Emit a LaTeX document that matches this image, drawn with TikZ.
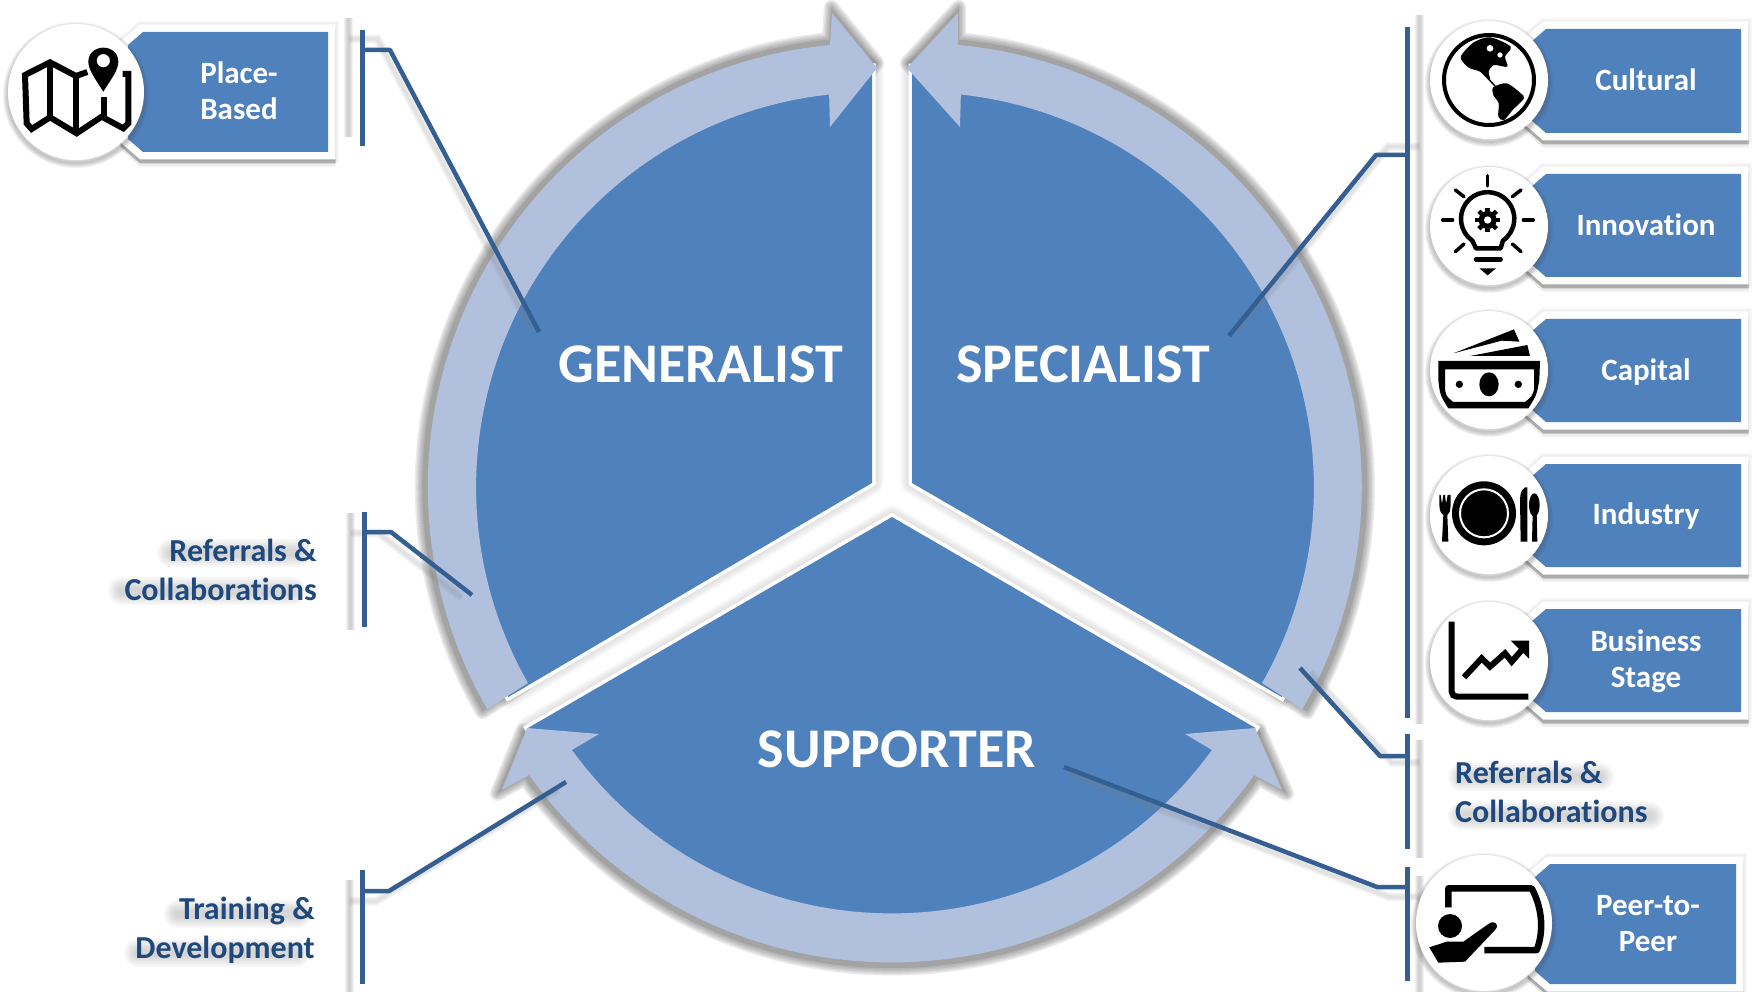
\documentclass[tikz,border=0pt]{standalone}
\usepackage{fontspec}
\setmainfont[RawFeature={-liga;-dlig;-clig}]{Carlito}
\definecolor{secblue}{HTML}{4F81BD}
\definecolor{ringblue}{HTML}{B0C0DD}
\definecolor{linkblue}{HTML}{365F91}
\definecolor{labelblue}{HTML}{1F497D}
\tikzset{
  tagtext/.style={text=white,font=\bfseries\fontsize{31}{36}\selectfont,align=center,inner sep=0pt},
  bigtext/.style={text=white,font=\bfseries\fontsize{56}{60}\selectfont,inner sep=0pt},
  sidetext/.style={text=labelblue,font=\bfseries\fontsize{32}{39}\selectfont,inner sep=0pt},
  link/.style={draw=linkblue,line width=4.5pt,line join=round},
  barlink/.style={draw=linkblue,line width=5pt},
  iconline/.style={draw=black,line width=4.5pt,line cap=round,line join=round}
}
% soft halo: stacked translucent strokes, widest first, closed by an opaque core
\newcommand{\softshape}[1]{%
  \foreach \w in {15,12,9,6,3}{\draw[draw=black!60,draw opacity=.12,line width=\w pt,line join=round] #1;}
  \fill[black!36] #1;}
\newcommand{\softband}[3]{%
  \foreach \w in {8,12,16,20,24,28}{\draw[draw=gray,draw opacity=.06,line width=\w pt,line cap=round] (#1,#3) -- (#2,#3);}}
% bracket connector: name, x, top, bottom, stub y, knee x, end x, end y
\newcommand{\bracket}[8]{%
  \begin{scope}[shift={(892,490)},scale=1.025,shift={(-892,-490)}]
    \foreach \w in {3,5,7,9}{\draw[draw=gray,draw opacity=.1,line width=\w pt] (#2,#3) -- (#2,#4);
      \draw[draw=gray,draw opacity=.06,line width=\w pt] (#2,#5) -- (#6,#5) -- (#7,#8);}
  \end{scope}
  \coordinate (#1top) at (#2,#3);
  \coordinate (#1bot) at (#2,#4);
  \coordinate (#1stub) at (#2,#5);
  \coordinate (#1knee) at (#6,#5);
  \coordinate (#1end) at (#7,#8);
  \draw[barlink] (#1top) -- (#1bot);
  \draw[link] (#1stub) -- (#1knee) -- (#1end);}
% tag: name, L, T, R, B, cx, cy, r, tx, ty, text
\newcommand{\tagbox}[9]{%
  \def\tagL{#2}\def\tagT{#3}\def\tagR{#4}\def\tagB{#5}\def\circX{#6}\def\circY{#7}\def\circR{#8}\def\tagName{#1}\def\tagTX{#9}\tagboxrest}
\newcommand{\tagoutline}{(\tagL,\tagT) -- (\tagR,\tagT) -- (\tagR,\tagB) -- (\tagL,\tagB) -- (\tagL-15,\tagB-13) -- (\tagL-15,\tagT+13) -- cycle}
\newcommand{\tagboxrest}[2]{%
  \foreach \w in {22,18}{\draw[draw=gray,draw opacity=.07,line width=\w pt,line join=miter] \tagoutline;}
  \begin{scope}[shift={(0,7)}]
    \draw[draw=gray,draw opacity=.15,line width=15pt,line join=miter] \tagoutline;
  \end{scope}
  \begin{scope}[shift={(0,4)}]
    \draw[draw=gray,draw opacity=.55,line width=15pt,line join=miter] \tagoutline;
  \end{scope}
  \draw[draw=white,line width=15pt,line join=miter,fill=white] \tagoutline;
  \fill[secblue] \tagoutline;
  \foreach \w in {2,4,6,8,10}{\draw[draw=black!70,draw opacity=.07,line width=\w pt] (\circX,\circY+3) circle[radius=\circR pt];}
  \fill[white] (\circX,\circY) circle[radius=\circR pt];
  \node[tagtext] (\tagName) at (\tagTX,#1) {#2};}
\begin{document}
\begin{tikzpicture}[x=1pt,y=1pt,yscale=-1]
\useasboundingbox (0,0) rectangle (1757,992);
\fill[white] (0,0) rectangle (1757,992);
\def\ringG{(528,683) arc[start angle=150.3,end angle=263.9,radius=395pt] -- (830,127) -- (877,68) -- (832,13) -- (830,45) arc[start angle=264.6,end angle=150,radius=444pt] -- cycle}
\def\ringS{(1262,683) arc[start angle=29.7,end angle=-83.9,radius=395pt] -- (960,127) -- (907,68) -- (958,13) -- (958,45) arc[start angle=-84.8,end angle=30,radius=444pt] -- cycle}
\def\ringB{(572,750) arc[start angle=144.1,end angle=35.9,radius=395pt] -- (1185,734) -- (1255,728) -- (1282,790) -- (1254,775) arc[start angle=35.3,end angle=144.7,radius=444pt] -- (502,790) -- (527,728) -- (599,734) -- cycle}
\def\secG{(872,483) -- (508.3,697) arc[start angle=150,end angle=270,radius=420pt] -- cycle}
\def\secS{(912,483) -- (1281.7,697) arc[start angle=30,end angle=-90.8,radius=420pt] -- cycle}
\def\secB{(892,517) -- (528,728) arc[start angle=150,end angle=30,radius=420pt] -- cycle}
% ring shadows
\begin{scope}[shift={(892,490)},scale=1.012,shift={(-892,-490)}]
  \softshape{\ringG}
  \softshape{\ringS}
  \softshape{\ringB}
\end{scope}
% sector halos
\foreach \w in {11,14,17,20,23}{
  \draw[draw=black!60,draw opacity=.035,line width=\w pt,line join=round] \secG;
  \draw[draw=black!60,draw opacity=.035,line width=\w pt,line join=round] \secS;
  \draw[draw=black!60,draw opacity=.035,line width=\w pt,line join=round] \secB;}
% sectors
\draw[draw=white,line width=7pt,line join=miter] \secG;
\draw[draw=white,line width=7pt,line join=miter] \secS;
\draw[draw=white,line width=7pt,line join=miter] \secB;
\fill[secblue] \secG;
\fill[secblue] \secS;
\fill[secblue] \secB;
% ring arrows
\fill[ringblue] \ringG;
\fill[ringblue] \ringS;
\fill[ringblue] \ringB;
% sector titles
\node[bigtext] (generalist) at (701,364) {GENERALIST};
\node[bigtext] (specialist) at (1083,364) {SPECIALIST};
\node[bigtext] (supporter) at (897,749) {SUPPORTER};
% connectors
\bracket{lone}{362}{30}{146}{50}{390}{539}{332}
\bracket{ltwo}{364}{512}{627}{532}{391}{472}{595}
\bracket{lthree}{362.5}{870}{984}{891}{389}{566}{782}
\bracket{rone}{1407}{27}{718}{155}{1376}{1229}{336}
\bracket{rtwo}{1407}{734}{849}{756}{1380}{1300}{668}
\bracket{rthree}{1407}{867}{981}{887}{1377}{1064}{767}
% side labels
\softband{171}{298}{553}
\softband{122}{292}{591}
\softband{178}{298}{914}
\softband{138}{296}{953}
\softband{1462}{1600}{777}
\softband{1462}{1650}{816}
\node[sidetext,anchor=east,align=right] (refleft) at (317,570) {Referrals \&\\Collaborations};
\node[sidetext,anchor=east,align=right] (training) at (315,930) {Training \&\\Development};
\node[sidetext,anchor=west,align=left] (refright) at (1455,792) {Referrals \&\\Collaborations};
% tags
\tagbox{place}{143}{32}{328}{152}{76}{92}{68}{239}{91}{Place-\\Based}
\tagbox{cultural}{1546}{29}{1741}{133}{1489}{80}{59}{1646}{80}{Cultural}
\tagbox{innovation}{1546}{174}{1741}{277}{1489}{226}{59}{1646}{225}{Innovation}
\tagbox{capital}{1546}{319}{1741}{422}{1489}{370}{59}{1646}{372}{Capital}
\tagbox{industry}{1546}{464}{1741}{567}{1489}{515}{59}{1646}{516}{Industry}
\tagbox{business}{1546}{609}{1741}{712}{1489}{661}{59}{1646}{661}{Business\\Stage}
\tagbox{peer}{1550}{864}{1736}{984}{1484}{923}{68}{1648}{924}{Peer-to-\\Peer}
% icon: map
\begin{scope}[scale=.33333]
  \draw[iconline,line width=6pt,line cap=butt,line join=miter] (262,216) -- (228,228) -- (150,187) -- (75,225) -- (80,370) -- (95,387) -- (150,352) -- (230,400) -- (305,350) -- (370,385) -- (385,370) -- (385,222) -- (368,222);
  \draw[iconline,line width=6pt,line cap=butt] (150,187) -- (150,352);
  \draw[iconline,line width=6pt,line cap=butt] (228,228) -- (228,400);
  \draw[iconline,line width=6pt,line cap=butt] (311,350) -- (311,290);
  \fill[black,even odd rule] (310,275) .. controls (285,235) and (265,210) .. (265,185) .. controls (265,160) and (285,143) .. (310,143) .. controls (335,143) and (355,160) .. (355,185) .. controls (355,210) and (335,235) .. (310,275) -- cycle (310,182) circle[radius=20pt];
\end{scope}
% icon: globe
\begin{scope}[shift={(1390,0)},scale=.33333]
  \draw[black,line width=4pt] (297,240) circle[radius=135pt];
  \fill[black] plot[smooth cycle] coordinates {(213,168) (250,128) (300,112) (362,140) (345,170) (352,200) (312,195) (296,215) (300,240) (270,215) (240,205) (222,190)};
  \fill[black] plot[smooth cycle] coordinates {(310,262) (350,250) (390,278) (402,295) (368,330) (342,360) (325,350) (326,310) (310,285)};
  \draw[black,line width=1.5pt] (275,215) -- (315,258);
  \fill[white] (300,145) circle[radius=10pt] (330,165) circle[radius=8pt];
\end{scope}
% icon: bulb
\begin{scope}[shift={(1390,0)},scale=.33333]
  \draw[iconline,line width=4.5pt] (247,722) arc[start angle=125,end angle=415,radius=80pt] -- (332,745) -- (258,745) -- cycle;
  \fill[black] (293,660) circle[radius=27pt];
  \foreach \a in {0,45,...,315}{\draw[black,line width=4.5pt] (293,660) -- +(\a:37);}
  \fill[white] (293,660) circle[radius=11pt];
  \draw[iconline,line width=4.5pt] (258,778) -- (332,778);
  \fill[black] (268,805) -- (318,805) -- (293,826) -- cycle;
  \draw[iconline,line width=3.5pt] (293,527) -- (293,558);
  \draw[iconline,line width=3.5pt] (158,660) -- (188,660);
  \draw[iconline,line width=3.5pt] (400,660) -- (430,660);
  \draw[iconline,line width=3.5pt] (196,570) -- (222,590);
  \draw[iconline,line width=3.5pt] (393,570) -- (367,590);
  \draw[iconline,line width=3.5pt] (196,755) -- (222,732);
  \draw[iconline,line width=3.5pt] (393,755) -- (367,732);
\end{scope}
% icon: cash
\begin{scope}[shift={(1390,300)},scale=.33333]
  \fill[black] (190,160) -- (372,88) -- (388,125) -- (335,122) -- cycle;
  \fill[black] (240,168) -- (412,135) -- (420,168) -- cycle;
  \fill[black,even odd rule] (145,183) -- (450,183) -- (448,240) .. controls (440,285) .. (415,325) -- (175,325) .. controls (150,285) .. (145,240) -- cycle
    (165,208) -- (432,208) -- (432,270) .. controls (425,290) .. (405,306) -- (190,306) .. controls (170,290) .. (165,270) -- cycle;
  \fill[black] (297,253) ellipse[x radius=29pt,y radius=36pt];
  \fill[black] (208,253) circle[radius=11pt] (385,253) circle[radius=11pt];
\end{scope}
% icon: plate
\begin{scope}[shift={(1390,300)},scale=.33333]
  \fill[black] (282,640) circle[radius=96pt];
  \draw[white,line width=2pt] (282,640) circle[radius=72pt];
  \fill[black] (148,585) -- (152,585) -- (156,612) -- (160,585) -- (165,585) -- (168,612) -- (173,585) -- (182,585) -- (182,615) .. controls (180,635) .. (172,645) -- (175,725) -- (156,725) -- (160,645) .. controls (150,635) .. (148,615) -- cycle;
  \fill[black] (392,725) -- (390,600) .. controls (392,575) .. (405,562) -- (412,562) -- (412,725) -- cycle;
  \fill[black] (433,615) ellipse[x radius=16pt,y radius=35pt];
  \fill[black] (428,640) -- (440,640) -- (442,725) -- (426,725) -- cycle;
\end{scope}
% icon: chart
\begin{scope}[shift={(1390,300)},scale=.33333]
  \draw[black,line width=6pt,rounded corners=5pt] (185,965) -- (185,1190) -- (415,1190);
  \draw[black,line width=6pt,line join=miter] (222,1132) -- (275,1075) -- (300,1100) -- (345,1060) -- (365,1085) -- (400,1045);
  \fill[black] (362,1022) -- (417,1022) -- (417,1076) -- cycle;
\end{scope}
% icon: presenter
\begin{scope}[shift={(1250,640)},scale=.33333]
  \draw[black,line width=6.5pt,line join=round] (595,802) -- (595,745) -- (845,745) .. controls (880,810) and (880,880) .. (860,930) -- (703,930);
  \fill[black] (600,858) circle[radius=36pt];
  \fill[black] (538,922) -- (590,905) -- (640,905) -- (718,850) .. controls (735,840) and (750,855) .. (735,870) -- (645,965) -- (565,968) -- cycle;
\end{scope}
\end{tikzpicture}
\end{document}
